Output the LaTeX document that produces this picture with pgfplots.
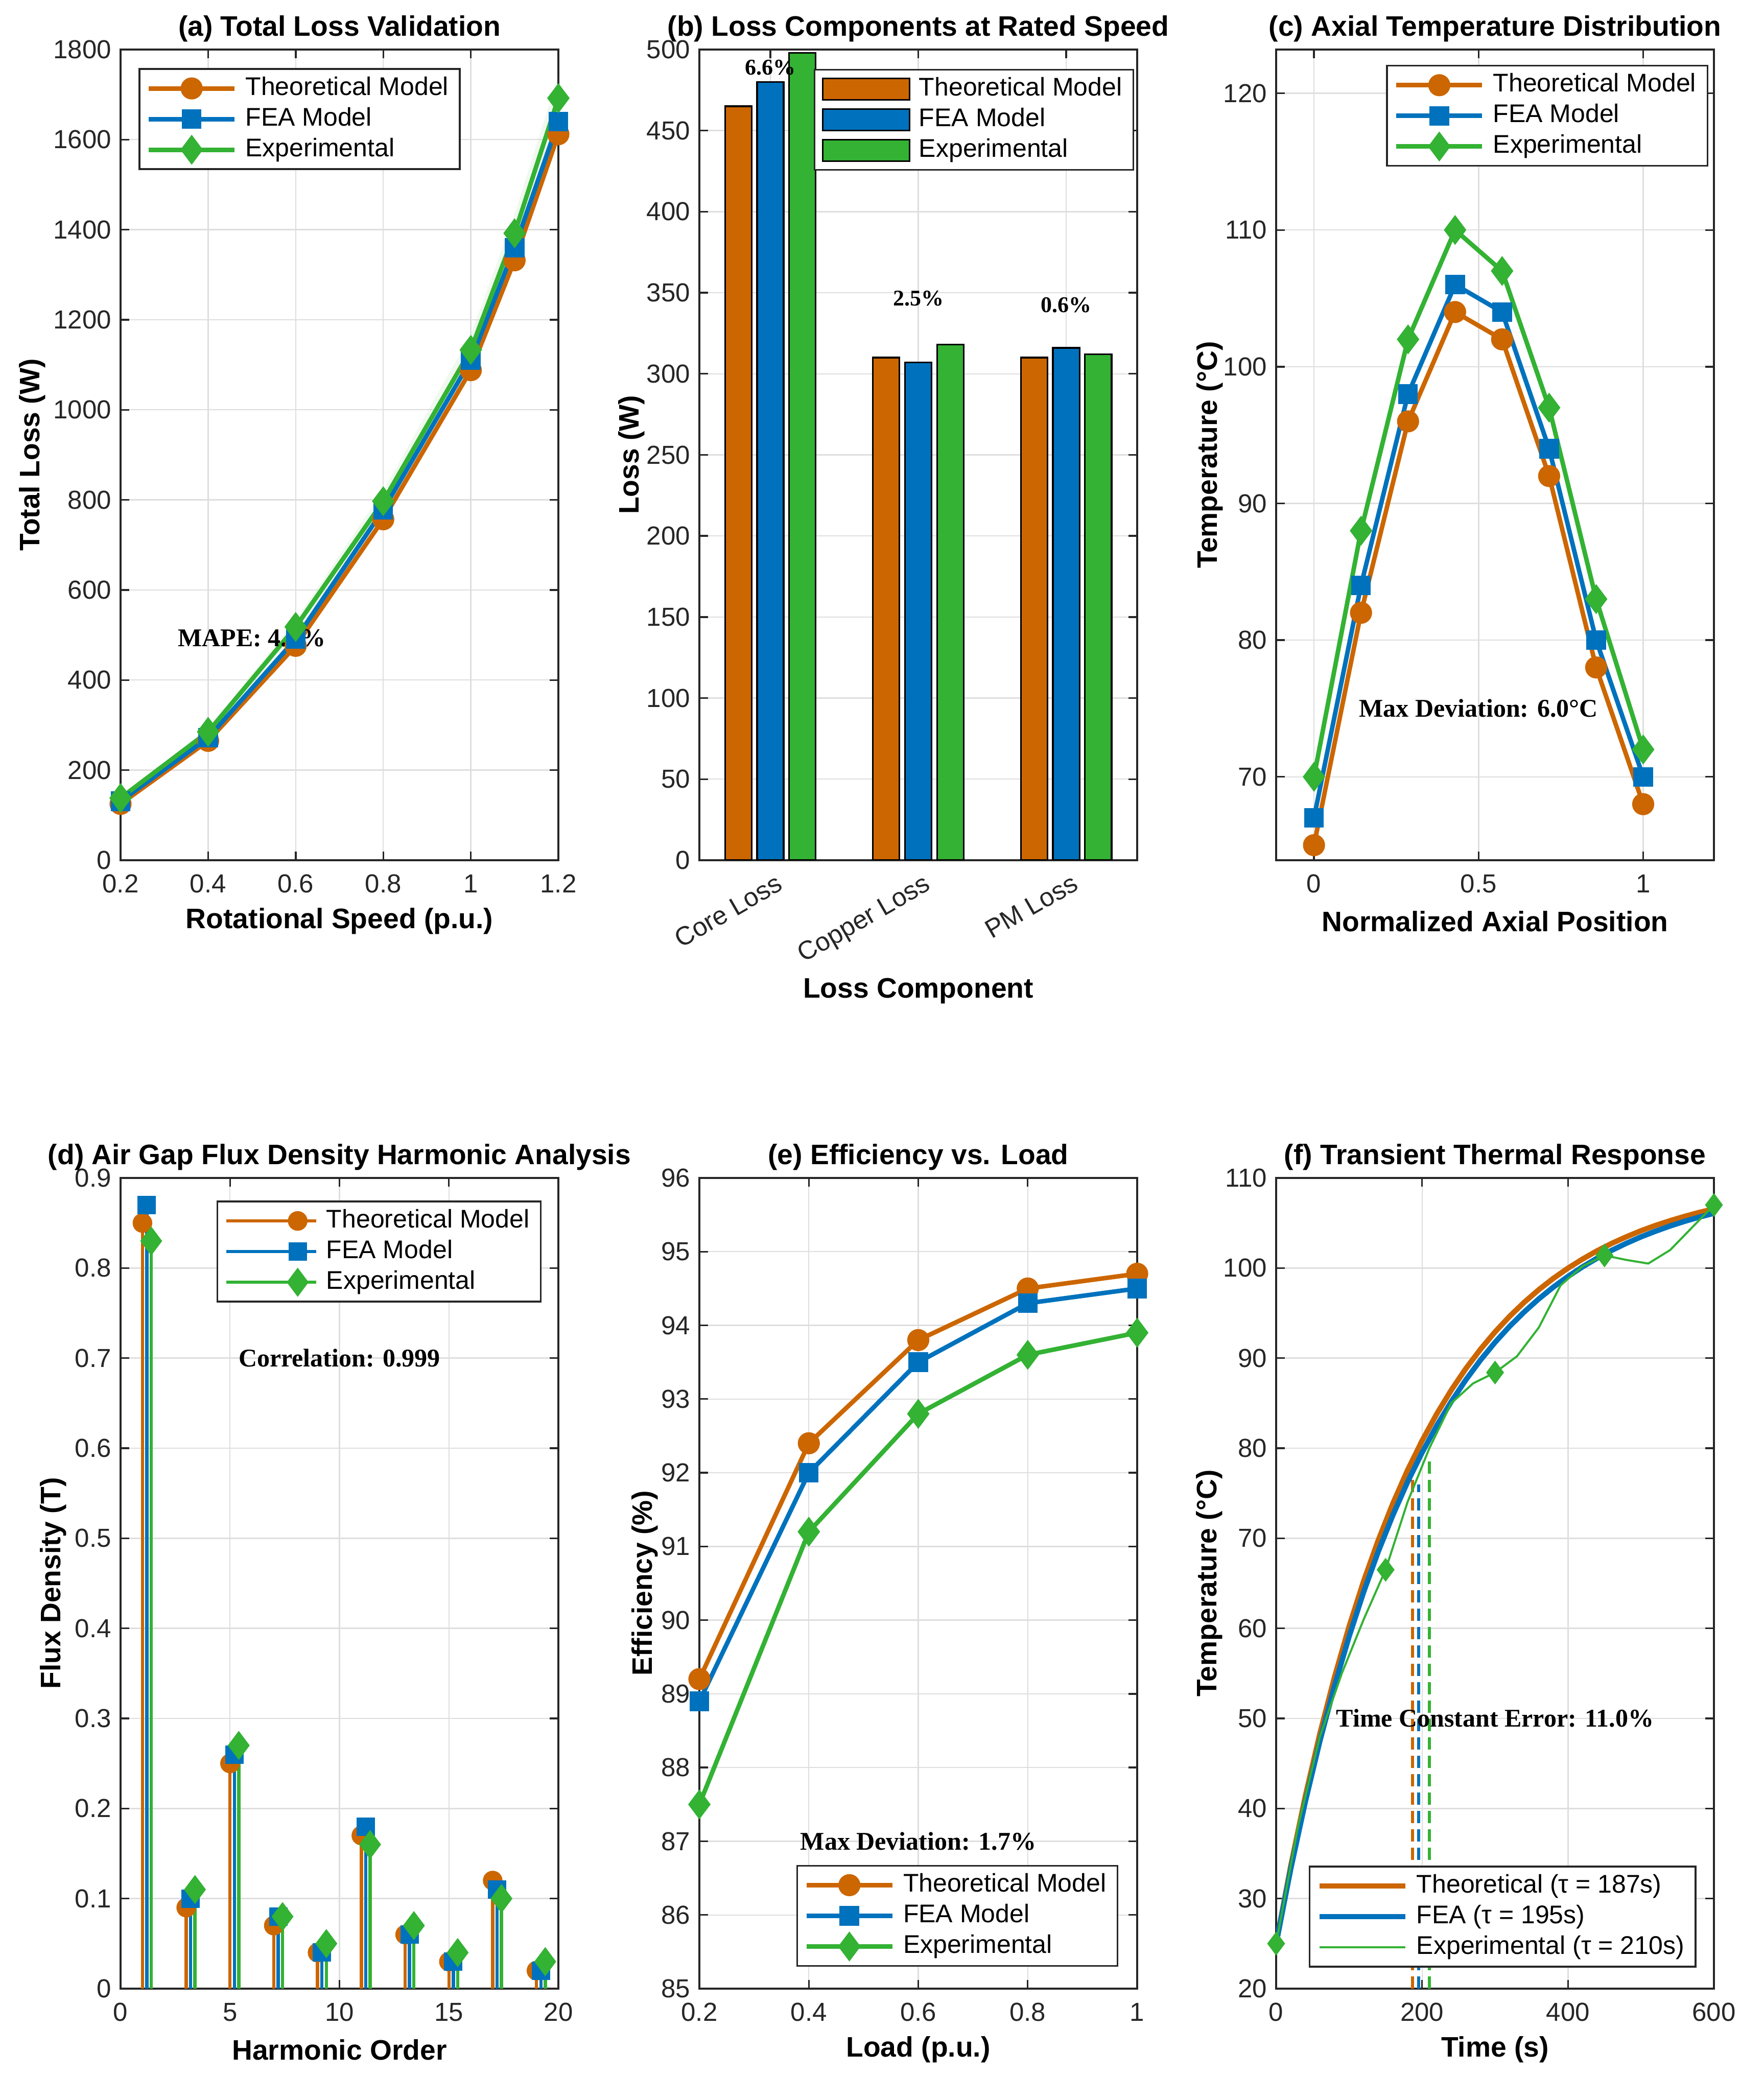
\documentclass[border=0pt]{standalone}
\usepackage{pgfplots}
\pgfplotsset{compat=1.18}
\usepackage{fontspec}
\setmainfont{Liberation Sans}
\newfontfamily\timesfont{Liberation Serif}
\definecolor{cOr}{rgb}{0.8,0.4,0}
\definecolor{cBl}{rgb}{0,0.447,0.741}
\definecolor{cGr}{rgb}{0.2,0.7,0.2}
\newcommand{\tickfont}{\fontsize{12.75}{14}\selectfont}
\newcommand{\labfont}{\fontsize{13.8}{16}\selectfont\bfseries}
\newcommand{\legfont}{\fontsize{12.5}{14}\selectfont}
\newcommand{\annfont}{\timesfont\bfseries\fontsize{12.5}{14}\selectfont}
\newcommand{\pctfont}{\timesfont\bfseries\fontsize{11}{13}\selectfont}

\pgfplotsset{
  panel/.style={
    scale only axis, width=214.25pt, height=396.75pt, anchor=south west,
    axis line style={line width=0.85pt, black!85},
    tick style={line width=0.85pt, black!85},
    major tick length=4.2pt, tick align=inside,
    grid=major, major grid style={line width=0.6pt, black!13},
    ticklabel style={font=\tickfont, text=black!85},
    xticklabel style={yshift=-3.5pt},
    yticklabel style={xshift=-1pt},
    /pgf/number format/assume math mode=true,
    /pgf/number format/1000 sep={},
    scaled ticks=false,
    title style={font=\labfont, at={(axis description cs:0.5,1)}, anchor=base, yshift=0.6pt},
    xlabel style={font=\labfont, at={(axis description cs:0.5,-0.0754)}, anchor=center},
    ylabel style={font=\labfont, anchor=center},
    legend cell align=left,
    legend style={font=\legfont, draw=black!85, line width=0.85pt, fill=white,
      inner xsep=3.5pt, inner ysep=2pt, column sep=2.25pt,
      nodes={inner xsep=2pt, inner ysep=1.25pt, text height=9.5pt, text depth=3pt}},
  },
  linleg/.style={legend image code/.code={\draw[##1, mark=none] (0pt,0pt) -- (42pt,0pt); \path[##1, only marks] plot coordinates {(21pt,0pt)};}},
  plainleg/.style={legend image code/.code={\draw[##1, mark=none] (0pt,0pt) -- (42pt,0pt);}},
  stemleg/.style={legend image code/.code={\draw[##1, mark=none, sharp plot] (0pt,0pt) -- (35pt,0pt); \path[##1, sharp plot, only marks] plot coordinates {(35pt,0pt)}; \path (0pt,0pt) -- (44pt,0pt);}},
  barleg/.style={legend image code/.code={\draw[##1, line width=0.8pt, draw=black] (0pt,-5.25pt) rectangle (42.5pt,5.25pt);}},
  theo/.style={color=cOr, line width=2.2pt, mark=*, mark size=5.2pt, mark options={solid, fill=cOr, draw=cOr, line width=0.4pt}, linleg},
  fea/.style={color=cBl, line width=2.2pt, mark=square*, mark size=4.6pt, mark options={solid, fill=cBl, draw=cBl, line width=0.4pt}, linleg},
  expm/.style={color=cGr, line width=2.2pt, mark=diamond*, mark size=7pt, mark options={solid, fill=cGr, draw=cGr, line width=0.4pt}, linleg},
}

\begin{document}
\begin{tikzpicture}
\path[use as bounding box] (0,0) rectangle (863.25pt,1016pt);

% (a)
\begin{axis}[panel, at={(59pt,595pt)},
  xmin=0.2, xmax=1.2, ymin=0, ymax=1800,
  xtick={0.2,0.4,0.6,0.8,1,1.2}, ytick={0,200,400,600,800,1000,1200,1400,1600,1800},
  title={(a) Total Loss Validation}, xlabel={Rotational Speed (p.u.)}, ylabel={Total Loss (W)},
  ylabel style={at={(axis description cs:-0.202,0.5)}},
  legend style={at={(axis description cs:0.041,0.977)}, anchor=north west}]
\addplot[draw=none, fill=cGr, fill opacity=0.08, forget plot] coordinates {(0.2,133.9) (0.4,276.5) (0.6,502.5) (0.8,773.1) (1,1099.0) (1.1,1350.2) (1.2,1641.2) (1.2,1742.8) (1.1,1433.8) (1,1167.0) (0.8,820.9) (0.6,533.5) (0.4,293.6) (0.2,142.1)};
\addplot[theo] coordinates {(0.2,125) (0.4,265) (0.6,476) (0.8,757) (1,1088) (1.1,1332) (1.2,1612)};
\addplot[fea] coordinates {(0.2,131) (0.4,272) (0.6,491) (0.8,778) (1,1110) (1.1,1360) (1.2,1640)};
\addplot[expm] coordinates {(0.2,138) (0.4,285) (0.6,518) (0.8,797) (1,1133) (1.1,1392) (1.2,1692)};
\legend{Theoretical Model, FEA Model, Experimental}
\node[font=\annfont] at (axis cs:0.5,493) {MAPE: 4.2\%};
\end{axis}

% (b)
\begin{axis}[panel, at={(342.25pt,595pt)},
  xmin=0.52, xmax=3.48, ymin=0, ymax=500,
  xtick={1,2,3}, xticklabels={Core Loss, Copper Loss, PM Loss},
  xticklabel style={rotate=30, anchor=north east, xshift=4pt},
  ytick={0,50,100,150,200,250,300,350,400,450,500},
  title={(b) Loss Components at Rated Speed}, xlabel={Loss Component}, ylabel={Loss (W)},
  xlabel style={at={(axis description cs:0.5,-0.161)}},
  ylabel style={at={(axis description cs:-0.155,0.5)}},
  legend style={at={(axis description cs:0.993,0.976)}, anchor=north east}]
\addplot[ybar, bar width=0.18, bar shift=-0.217, fill=cOr, draw=black, line width=0.8pt, barleg] coordinates {(1,465) (2,310) (3,310)};
\addplot[ybar, bar width=0.18, bar shift=0, fill=cBl, draw=black, line width=0.8pt, barleg] coordinates {(1,480) (2,307) (3,316)};
\addplot[ybar, bar width=0.18, bar shift=0.217, fill=cGr, draw=black, line width=0.8pt, barleg] coordinates {(1,498) (2,318) (3,312)};
\legend{Theoretical Model, FEA Model, Experimental}
\node[font=\pctfont] at (axis cs:1,489) {6.6\%};
\node[font=\pctfont] at (axis cs:2,346.5) {2.5\%};
\node[font=\pctfont] at (axis cs:3,342.4) {0.6\%};
\end{axis}

% (c)
\begin{axis}[panel, at={(624.5pt,595pt)},
  xmin=-0.115, xmax=1.215, ymin=63.9, ymax=123.2,
  xtick={0,0.5,1}, ytick={70,80,90,100,110,120},
  title={(c) Axial Temperature Distribution}, xlabel={Normalized Axial Position}, ylabel={Temperature (°C)},
  ylabel style={at={(axis description cs:-0.152,0.5)}},
  legend style={at={(axis description cs:0.987,0.981)}, anchor=north east}]
\addplot[theo] coordinates {(0,65) (0.142857,82) (0.285714,96) (0.428571,104) (0.571429,102) (0.714286,92) (0.857143,78) (1,68)};
\addplot[fea] coordinates {(0,67) (0.142857,84) (0.285714,98) (0.428571,106) (0.571429,104) (0.714286,94) (0.857143,80) (1,70)};
\addplot[expm] coordinates {(0,70) (0.142857,88) (0.285714,102) (0.428571,110) (0.571429,107) (0.714286,97) (0.857143,83) (1,72)};
\legend{Theoretical Model, FEA Model, Experimental}
\node[font=\annfont] at (axis cs:0.5,75) {Max Deviation: 6.0°C};
\end{axis}

% (d)
\begin{axis}[panel, at={(59pt,42.75pt)},
  xmin=0, xmax=20, ymin=0, ymax=0.9,
  xtick={0,5,10,15,20}, ytick={0,0.1,0.2,0.3,0.4,0.5,0.6,0.7,0.8,0.9},
  title={(d) Air Gap Flux Density Harmonic Analysis}, xlabel={Harmonic Order}, ylabel={Flux Density (T)},
  ylabel style={at={(axis description cs:-0.154,0.5)}},
  legend style={at={(axis description cs:0.9615,0.972)}, anchor=north east}]
\addplot[ycomb, color=cOr, line width=1.6pt, mark=*, mark size=4.6pt, mark options={solid, fill=cOr, line width=0.4pt}, stemleg] coordinates {(1,0.85) (3,0.09) (5,0.25) (7,0.07) (9,0.04) (11,0.17) (13,0.06) (15,0.03) (17,0.12) (19,0.02)};
\addplot[ycomb, color=cBl, line width=1.6pt, mark=square*, mark size=4.3pt, mark options={solid, fill=cBl, line width=0.4pt}, stemleg] coordinates {(1.2,0.87) (3.2,0.10) (5.2,0.26) (7.2,0.08) (9.2,0.04) (11.2,0.18) (13.2,0.06) (15.2,0.03) (17.2,0.11) (19.2,0.02)};
\addplot[ycomb, color=cGr, line width=1.6pt, mark=diamond*, mark size=6.8pt, mark options={solid, fill=cGr, line width=0.4pt}, stemleg] coordinates {(1.4,0.83) (3.4,0.11) (5.4,0.27) (7.4,0.08) (9.4,0.05) (11.4,0.16) (13.4,0.07) (15.4,0.04) (17.4,0.10) (19.4,0.03)};
\legend{Theoretical Model, FEA Model, Experimental}
\node[font=\annfont] at (axis cs:10,0.70) {Correlation: 0.999};
\end{axis}

% (e)
\begin{axis}[panel, at={(342.25pt,42.75pt)},
  xmin=0.2, xmax=1, ymin=85, ymax=96,
  xtick={0.2,0.4,0.6,0.8,1}, ytick={85,86,87,88,89,90,91,92,93,94,95,96},
  title={(e) Efficiency vs. Load}, xlabel={Load (p.u.)}, ylabel={Efficiency (\%)},
  ylabel style={at={(axis description cs:-0.125,0.5)}},
  legend style={at={(axis description cs:0.957,0.027)}, anchor=south east}]
\addplot[theo] coordinates {(0.2,89.2) (0.4,92.4) (0.6,93.8) (0.8,94.5) (1,94.7)};
\addplot[fea] coordinates {(0.2,88.9) (0.4,92.0) (0.6,93.5) (0.8,94.3) (1,94.5)};
\addplot[expm] coordinates {(0.2,87.5) (0.4,91.2) (0.6,92.8) (0.8,93.6) (1,93.9)};
\legend{Theoretical Model, FEA Model, Experimental}
\node[font=\annfont] at (axis cs:0.6,87) {Max Deviation: 1.7\%};
\end{axis}

% (f)
\begin{axis}[panel, at={(624.5pt,42.75pt)},
  xmin=0, xmax=600, ymin=20, ymax=110,
  xtick={0,200,400,600}, ytick={20,30,40,50,60,70,80,90,100,110},
  title={(f) Transient Thermal Response}, xlabel={Time (s)}, ylabel={Temperature (°C)},
  ylabel style={at={(axis description cs:-0.153,0.5)}},
  legend style={at={(axis description cs:0.960,0.026)}, anchor=south east}]
\addplot[cOr, line width=1.5pt, dash pattern=on 6pt off 3pt, forget plot] coordinates {(187,20) (187,76.5)};
\addplot[cBl, line width=1.5pt, dash pattern=on 6pt off 3pt, forget plot] coordinates {(195,20) (195,76)};
\addplot[cGr, line width=1.5pt, dash pattern=on 6pt off 3pt, forget plot] coordinates {(210,20) (210,79)};
\addplot[cOr, line width=2.6pt, mark=none, plainleg] coordinates {(0,25) (20,33.62) (40,41.37) (60,48.33) (80,54.59) (100,60.21) (120,65.26) (140,69.79) (160,73.87) (180,77.54) (200,80.83) (220,83.79) (240,86.45) (260,88.84) (280,90.98) (300,92.91) (320,94.64) (340,96.20) (360,97.60) (380,98.86) (400,99.99) (420,101.00) (440,101.92) (460,102.74) (480,103.47) (500,104.14) (520,104.73) (540,105.26) (560,105.74) (580,106.18) (600,106.56)};
\addplot[cBl, line width=2.6pt, mark=none, plainleg] coordinates {(0,25) (20,33.29) (40,40.76) (60,47.51) (80,53.60) (100,59.10) (120,64.06) (140,68.54) (160,72.58) (180,76.23) (200,79.52) (220,82.49) (240,85.17) (260,87.59) (280,89.78) (300,91.75) (320,93.53) (340,95.13) (360,96.58) (380,97.89) (400,99.07) (420,100.14) (440,101.10) (460,101.97) (480,102.75) (500,103.46) (520,104.09) (540,104.67) (560,105.19) (580,105.66) (600,106.08)};
\addplot[cGr, line width=1pt, mark=diamond*, mark size=5.5pt, mark repeat=5, mark options={solid, fill=cGr, line width=0.4pt}, plainleg] coordinates {(0,25) (30,38) (60,48) (90,55) (120,61) (150,66.5) (180,74) (210,80) (240,85) (270,87.2) (300,88.4) (330,90.2) (360,93.4) (390,98.1) (420,100.2) (450,101.4) (480,100.9) (510,100.5) (540,102.0) (570,104.5) (600,107)};
\legend{Theoretical (τ = 187s), FEA (τ = 195s), Experimental (τ = 210s)}
\node[font=\annfont] at (axis cs:300,50) {Time Constant Error: 11.0\%};
\end{axis}
\end{tikzpicture}
\end{document}
